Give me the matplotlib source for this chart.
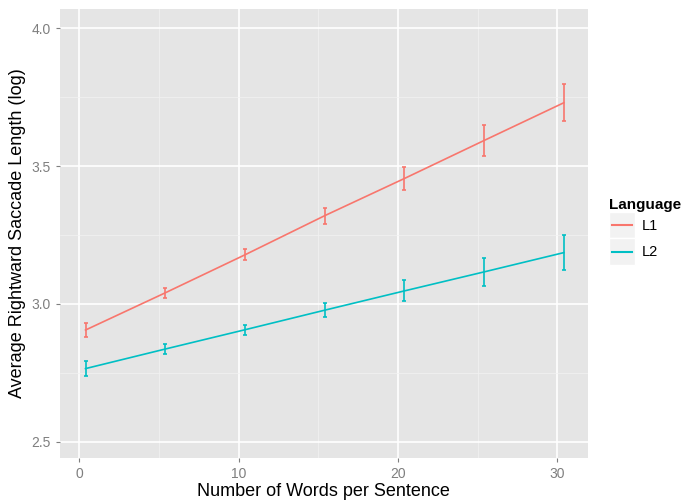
import matplotlib.pyplot as plt
from matplotlib.patches import Rectangle
from matplotlib.lines import Line2D
from matplotlib.legend_handler import HandlerBase

# Datos
palabras = [0.4, 5.4, 10.4, 15.4, 20.4, 25.4, 30.4]
l1_media = [2.905, 3.040, 3.178, 3.320, 3.455, 3.593, 3.730]
l1_error = [0.027, 0.018, 0.020, 0.029, 0.040, 0.056, 0.068]
l2_media = [2.765, 2.836, 2.906, 2.977, 3.047, 3.116, 3.186]
l2_error = [0.028, 0.019, 0.019, 0.026, 0.038, 0.050, 0.064]
idiomas = ["L1", "L2"]
colores = ["#F8766D", "#00BFC4"]

plt.rcParams['font.family'] = ['Liberation Sans', 'DejaVu Sans']


class ClaveGris(HandlerBase):
    # caja gris con la línea en el centro, como en ggplot
    def create_artists(self, legend, orig, xd, yd, width, height, fontsize, trans):
        caja = Rectangle((-xd, -yd), width, height, facecolor="#F2F2F2",
                         edgecolor="white", linewidth=1, transform=trans)
        linea = Line2D([-xd + 2, -xd + width - 2], [-yd + height / 2] * 2,
                       color=orig.get_color(), linewidth=1.5, transform=trans)
        return [caja, linea]


fig = plt.figure(figsize=(6.85, 5.04), dpi=100)
ax = fig.add_axes([0.0876, 0.091, 0.7704, 0.891])
ax.set_facecolor("#E5E5E5")

# Rejilla estilo ggplot
for s in ax.spines.values():
    s.set_visible(False)
ax.set_axisbelow(True)
ax.set_xticks([0, 10, 20, 30])
ax.set_xticks([5, 15, 25], minor=True)
ax.set_yticks([2.5, 3.0, 3.5, 4.0])
ax.set_yticks([2.75, 3.25, 3.75], minor=True)
ax.set_yticklabels(["2.5", "3.0", "3.5", "4.0"])
ax.grid(which='major', color='white', linewidth=1.2)
ax.grid(which='minor', color='#F2F2F2', linewidth=0.5)
ax.tick_params(which='major', length=3, width=0.8, color='#7F7F7F',
               labelcolor='#7F7F7F', labelsize=10)
ax.tick_params(which='minor', length=0)

for medias, errores, color, nombre in zip([l1_media, l2_media], [l1_error, l2_error], colores, idiomas):
    ax.errorbar(palabras, medias, yerr=errores, color=color, linewidth=1.2,
                elinewidth=1.2, capsize=1.5, capthick=1.2, label=nombre)

ax.set_xlim(-1.2, 31.9)
ax.set_ylim(2.44, 4.07)
ax.set_xlabel("Number of Words per Sentence", fontsize=13, labelpad=1)
ax.set_ylabel("Average Rightward Saccade Length (log)", fontsize=13, labelpad=4)

# Leyenda
handles = [Line2D([], [], color=c) for c in colores]
leg = ax.legend(handles, idiomas, title="Language", loc='center left',
                bbox_to_anchor=(1.021, 0.505), frameon=False, fontsize=10.5,
                handlelength=1.75, handleheight=2.4, handletextpad=0.5,
                labelspacing=0.0, borderpad=0.2,
                handler_map={Line2D: ClaveGris()})
leg.get_title().set_fontweight('bold')
leg.get_title().set_fontsize(11)
leg._legend_box.align = "left"

fig.savefig("out.png", dpi=100)
